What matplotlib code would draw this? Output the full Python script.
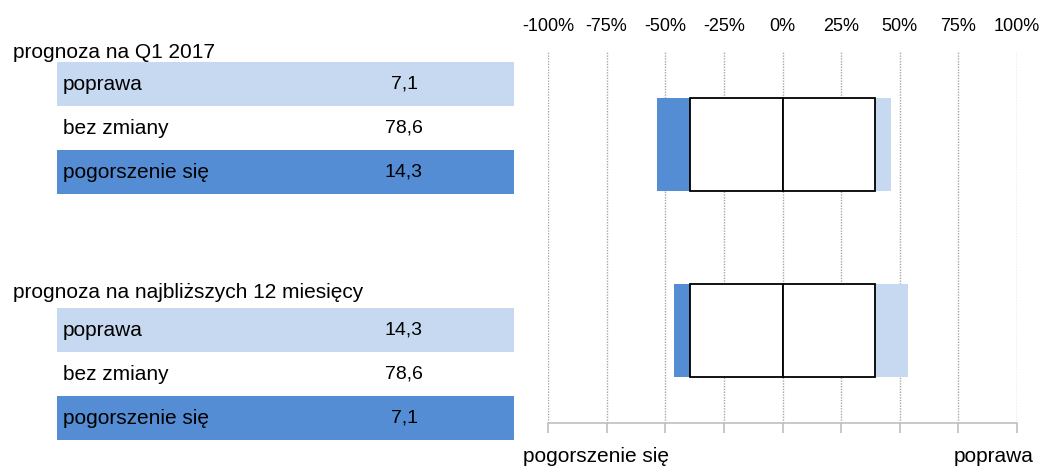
import matplotlib.pyplot as plt
from matplotlib.patches import Rectangle

plt.rcParams['font.family'] = ['Liberation Sans', 'DejaVu Sans']

# data
groups = ["prognoza na Q1 2017", "prognoza na najbliższych 12 miesięcy"]
row_labels = ["poprawa", "bez zmiany", "pogorszenie się"]
better = [7.1, 14.3]
same = [78.6, 78.6]
worse = [14.3, 7.1]
ticks = [-100, -75, -50, -25, 0, 25, 50, 75, 100]

light = "#C6D9F1"
dark = "#548DD4"
row_colors = [light, "white", dark]
fs_text = 15
fs_num = 14

W, H = 1048, 471
fig = plt.figure(figsize=(W / 100, H / 100), dpi=100)

# left side: table drawn in pixel coordinates
tab = fig.add_axes([0, 0, 1, 1])
tab.set_xlim(0, W)
tab.set_ylim(H, 0)
tab.axis("off")

group_top = [52, 292]
row_top = [62, 308]
row_h = 44
for g, name in enumerate(groups):
    vals = [better[g], same[g], worse[g]]
    tab.text(13, group_top[g], name, fontsize=fs_text, va="center", ha="left")
    for r, lab in enumerate(row_labels):
        y0 = row_top[g] + r * row_h
        tab.add_patch(Rectangle((57, y0), 457, row_h, facecolor=row_colors[r], edgecolor="none"))
        tab.text(63, y0 + row_h / 2, lab, fontsize=fs_text, va="center", ha="left")
        tab.text(404, y0 + row_h / 2, f"{vals[r]:.1f}".replace(".", ","),
                 fontsize=fs_num, va="center", ha="center")

# right side: diverging bars
ax = fig.add_axes([548 / W, (H - 423) / H, (1017 - 548) / W, 371 / H])
ypos = [0, 1]
h = 0.5
for i, y in enumerate(ypos):
    half = same[i] / 2
    ax.barh(y, -worse[i], left=-half, height=h, color=dark, zorder=2)
    ax.barh(y, better[i], left=half, height=h, color=light, zorder=2)
    ax.barh(y, -half, left=0, height=h, color="white", edgecolor="black", linewidth=1.3, zorder=3)
    ax.barh(y, half, left=0, height=h, color="white", edgecolor="black", linewidth=1.3, zorder=3)

ax.set_xlim(-100, 100)
ax.set_ylim(1.5, -0.5)
ax.set_xticks(ticks)
ax.set_xticklabels([f"{t}%" for t in ticks], fontsize=13)
ax.set_yticks([])
ax.tick_params(axis="x", top=False, labeltop=True, bottom=True, labelbottom=False,
               direction="out", length=7, color="#BFBFBF", width=1.2, pad=5.5)
for t in ticks:
    ax.axvline(t, color="#A6A6A6", linestyle=(0, (1, 1)), linewidth=1, zorder=1)
for s in ["top", "left", "right"]:
    ax.spines[s].set_visible(False)
ax.spines["bottom"].set_color("#BFBFBF")
ax.spines["bottom"].set_linewidth(1.2)

fig.text(523 / W, 1 - 457 / H, "pogorszenie się", fontsize=fs_text, ha="left", va="center")
fig.text(1034 / W, 1 - 457 / H, "poprawa", fontsize=fs_text, ha="right", va="center")

fig.savefig("out.png", dpi=100)
